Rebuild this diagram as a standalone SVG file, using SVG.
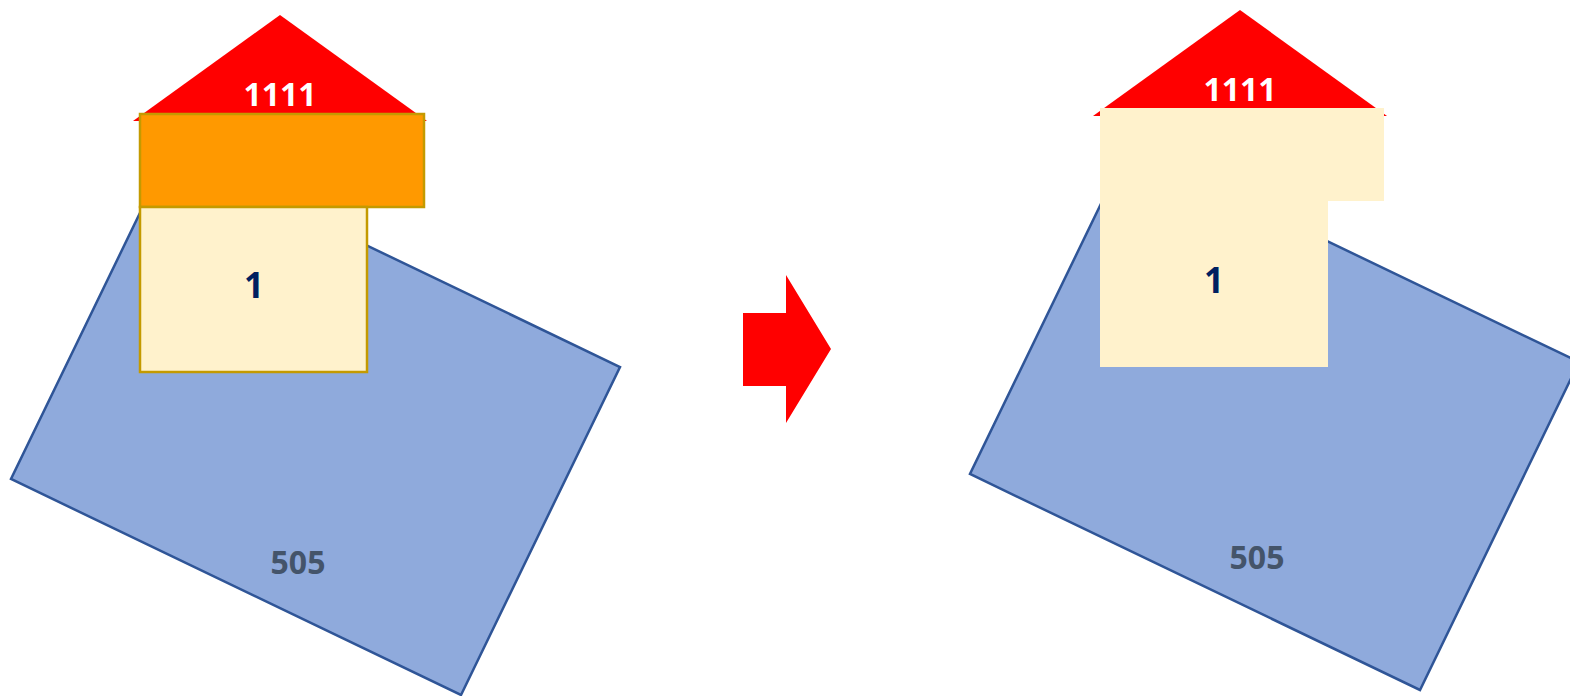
<svg xmlns="http://www.w3.org/2000/svg" width="1570" height="696" viewBox="0 0 1570 696">
<style>
.blue{fill:#8FAADC;stroke:#2F5597;stroke-width:2.5}
.roof{fill:#FF0000}
.t{font-family:"Open Sans","Liberation Sans",sans-serif;font-weight:700;text-anchor:middle}
.w{fill:#FFFFFF;font-size:32px}
.n{fill:#002060;font-size:35px}
.g{fill:#44546A;font-size:32px}
.edge{stroke:#C49A00;stroke-width:2.5}
</style>
<rect width="1570" height="696" fill="#FFFFFF"/>
<g id="left-base">
<polygon class="blue" points="170,151 620,367 461,695 11,479"/>
<text class="t g" x="298" y="574">505</text>
</g>
<g id="left-roof">
<polygon class="roof" points="280,15 427,121 133,121"/>
<text class="t w" x="280" y="106">1111</text>
</g>
<g id="left-orange">
<rect class="edge" x="140" y="114" width="284" height="93" fill="#FF9900"/>
</g>
<g id="left-cream">
<rect class="edge" x="140" y="207" width="227" height="165" fill="#FFF2CC"/>
<text class="t n" x="254" y="298">1</text>
</g>
<g id="connectors">
<polygon class="roof" points="743,313 786,313 786,275 831,349 786,423 786,386 743,386"/>
</g>
<g id="right-base">
<polygon class="blue" points="1129,146 1579,362 1420,690 970,474"/>
<text class="t g" x="1257" y="569">505</text>
</g>
<g id="right-roof">
<polygon class="roof" points="1240,10 1387,116 1093,116"/>
<text class="t w" x="1240" y="101">1111</text>
</g>
<g id="right-cream">
<polygon fill="#FFF2CC" points="1100,108 1384,108 1384,201 1328,201 1328,367 1100,367"/>
<text class="t n" x="1214" y="293">1</text>
</g>
</svg>
